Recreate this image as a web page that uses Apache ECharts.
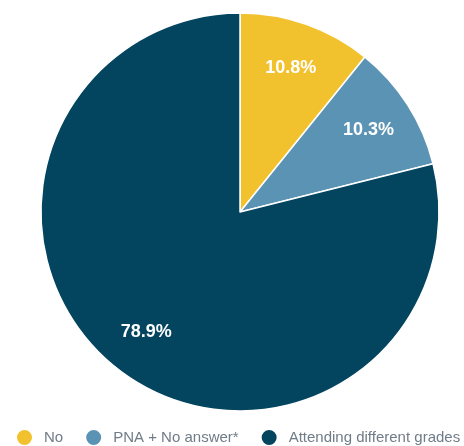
<!DOCTYPE html>
<html>
<head>
<meta charset="utf-8">
<script src="https://cdn.jsdelivr.net/npm/echarts@6/dist/echarts.min.js"></script>
<style>
  html, body { margin: 0; padding: 0; background: #ffffff; }
  #chart { width: 464px; height: 446px; }
</style>
</head>
<body>
<div id="chart"></div>
<script>
// Share of answers, in percent
const categories = ['No', 'PNA + No answer*', 'Attending different grades'];
const shares = [10.8, 10.3, 78.9];
const palette = ['#F2C12E', '#5B93B4', '#03445F'];

const pieData = categories.map((name, i) => ({
  name: name,
  value: shares[i],
  itemStyle: { color: palette[i] }
}));

const chart = echarts.init(document.getElementById('chart'), null, { renderer: 'canvas' });

chart.setOption({
  animation: false,
  backgroundColor: '#ffffff',
  legend: {
    left: 15,
    top: 428,
    width: 800,
    padding: 0,
    icon: 'circle',
    itemWidth: 17,
    itemHeight: 17,
    itemGap: 21,
    textStyle: {
      fontFamily: 'Liberation Sans, Arial, sans-serif',
      fontSize: 15,
      color: '#707c88',
      padding: [0, 0, 0, 6]
    },
    data: categories.map((name, i) => ({ name: name, itemStyle: { color: palette[i] } }))
  },
  series: [
    {
      // the slices themselves
      type: 'pie',
      center: [240, 212],
      radius: [0, 199],
      startAngle: 90,
      clockwise: true,
      label: { show: false },
      labelLine: { show: false },
      itemStyle: { borderColor: '#ffffff', borderWidth: 1.5 },
      emphasis: { disabled: true },
      data: pieData
    },
    {
      // transparent ring that carries the percentage labels at three quarters of the radius
      type: 'pie',
      center: [240, 212],
      radius: [100, 199],
      startAngle: 90,
      clockwise: true,
      silent: true,
      itemStyle: { color: 'rgba(0,0,0,0)', borderWidth: 0 },
      label: {
        show: true,
        position: 'inside',
        formatter: p => p.value.toFixed(1) + '%',
        color: '#ffffff',
        fontFamily: 'Liberation Sans, Arial, sans-serif',
        fontWeight: 'bold',
        fontSize: 18
      },
      labelLine: { show: false },
      emphasis: { disabled: true },
      data: categories.map((name, i) => ({ name: name, value: shares[i] }))
    }
  ]
});
</script>
</body>
</html>
